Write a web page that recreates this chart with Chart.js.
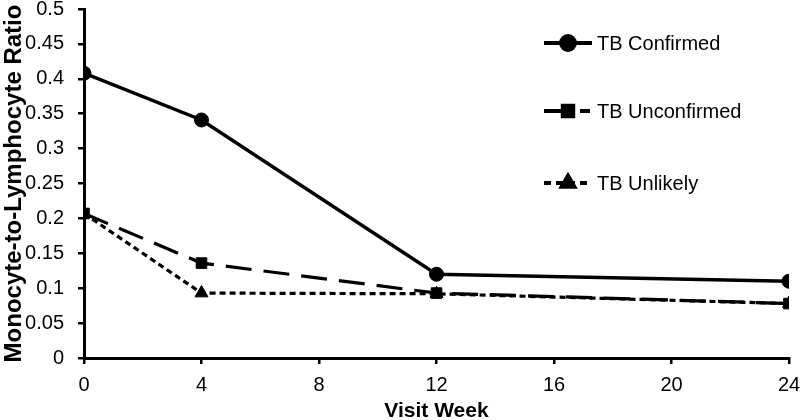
<!DOCTYPE html>
<html>
<head>
<meta charset="utf-8">
<script src="https://cdn.jsdelivr.net/npm/chart.js@4.4.1/dist/chart.umd.min.js"></script>
<style>
html,body{margin:0;padding:0;background:#fff;}
#wrap{width:800px;height:420px;}
</style>
</head>
<body>
<div id="wrap"><canvas id="c" width="800" height="420"></canvas></div>
<script>
const weeks = [0, 4, 12, 24];
const tbConfirmed = [0.408, 0.341, 0.120, 0.110];
const tbUnconfirmed = [0.207, 0.136, 0.093, 0.078];
const tbUnlikely = [0.207, 0.093, 0.092, 0.078];
const seriesNames = ['TB Confirmed', 'TB Unconfirmed', 'TB Unlikely'];
const xTicks = [0, 4, 8, 12, 16, 20, 24];
const yTitle = 'Monocyte-to-Lymphocyte Ratio';
const xTitle = 'Visit Week';

const FONT = '"Liberation Sans", Arial, sans-serif';

function pts(vals){ return weeks.map((w,i)=>({x:w,y:vals[i]})); }

const legendPos = [43, 111, 183];

const legendPlugin = {
  id: 'customLegend',
  afterDraw(chart){
    const ctx = chart.ctx;
    chart.data.datasets.forEach((ds, i) => {
      const y = legendPos[i];
      const x0 = 544, x1 = 592, mx = 568;
      ctx.save();
      ctx.strokeStyle = '#000';
      ctx.lineWidth = 3.8;
      ctx.setLineDash(ds.legendDash || []);
      ctx.beginPath();
      ctx.moveTo(x0, y);
      ctx.lineTo(x1, y);
      ctx.stroke();
      ctx.setLineDash([]);
      Chart.helpers.drawPoint(ctx, {pointStyle: ds.pointStyle, radius: ds.pointRadius, rotation: 0, borderWidth: 1}, mx, y);
      ctx.fillStyle = '#000';
      ctx.font = '20px ' + FONT;
      ctx.textBaseline = 'middle';
      ctx.textAlign = 'left';
      ctx.fillText(ds.label, 597, y + 1);
      ctx.restore();
    });
  }
};

new Chart(document.getElementById('c'), {
  type: 'line',
  data: {
    datasets: [
      {label: seriesNames[0], data: pts(tbConfirmed), borderColor:'#000', backgroundColor:'#000', borderWidth:3.5, pointStyle:'circle', pointRadius:7, pointBorderWidth:1, legendDash: []},
      {label: seriesNames[1], data: pts(tbUnconfirmed), borderColor:'#000', backgroundColor:'#000', borderWidth:3.2, borderDash:[26,12], pointStyle:'rect', pointRadius:7.5, pointBorderWidth:1, legendDash:[22,14,10,100]},
      {label: seriesNames[2], data: pts(tbUnlikely), borderColor:'#000', backgroundColor:'#000', borderWidth:3.2, borderDash:[6,4], pointStyle:'triangle', pointRadius:7.5, pointBorderWidth:1, legendDash:[7,5]}
    ]
  },
  options: {
    responsive: false,
    animation: false,
    events: [],
    layout: {padding: {top: 9, right: 11, left: 0, bottom: 0}},
    plugins: {legend: {display: false}, tooltip: {enabled: false}},
    scales: {
      x: {
        type: 'linear', min: 0, max: 24,
        afterBuildTicks(s){ s.ticks = xTicks.map(v=>({value:v})); },
        afterFit(s){ s.height = 62; s.paddingLeft = 0; s.paddingRight = 0; },
        border: {display: true, color:'#000', width: 3},
        grid: {display: true, drawOnChartArea: false, color:'#000', lineWidth: 2.5, tickLength: 6},
        ticks: {color:'#000', font:{family: FONT, size: 20}, padding: 9, maxRotation: 0, autoSkip:false},
        title: {display: true, text: xTitle, color:'#000', font:{family: FONT, size: 21, weight:'bold', lineHeight: 1}, padding: {top: 0, bottom: -2}}
      },
      y: {
        min: 0, max: 0.5,
        ticks: {stepSize: 0.05, color:'#000', font:{family: FONT, size: 20}, padding: 14,
          callback: v => String(Math.round(v*100)/100)},
        afterFit(s){ s.width = 84; s.paddingTop = 0; s.paddingBottom = 0; },
        border: {display: true, color:'#000', width: 3},
        grid: {display: true, drawOnChartArea: false, color:'#000', lineWidth: 2.5, tickLength: 6},
        title: {display: true, text: yTitle, color:'#000', font:{family: FONT, size: 24, weight:'bold', lineHeight: 1}, padding: {top: 2, bottom: 0}}
      }
    }
  },
  plugins: [legendPlugin]
});
</script>
</body>
</html>
